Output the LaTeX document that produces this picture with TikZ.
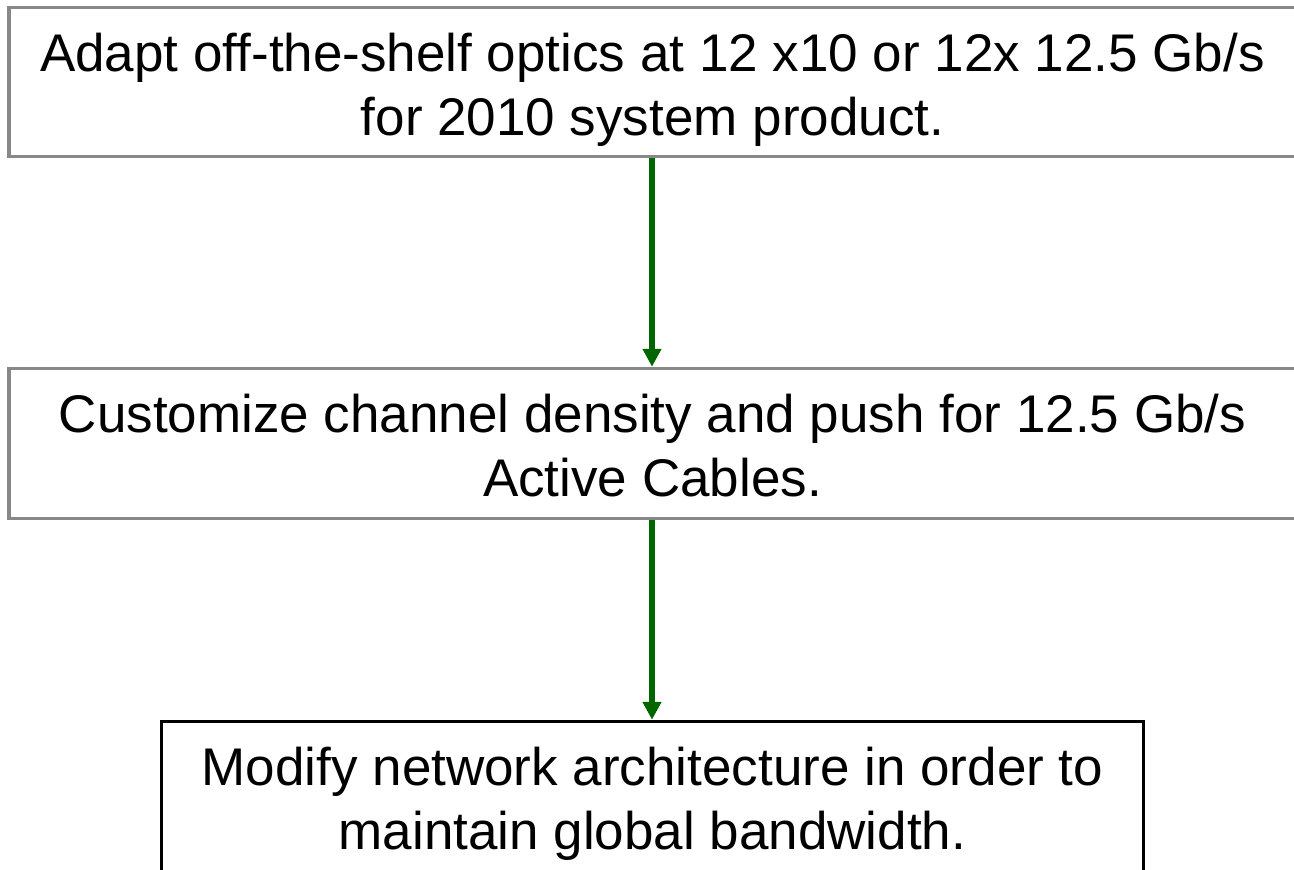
\documentclass[tikz,border=0pt]{standalone}
\usepackage{fontspec}
\setmainfont{Liberation Sans}
\usetikzlibrary{arrows.meta}
\definecolor{boxgray}{RGB}{136,136,136}
\definecolor{flowgreen}{RGB}{0,102,0}
\tikzset{
  stagebox/.style={draw=boxgray, line width=3.5pt, rectangle, inner sep=0pt, fill=white},
  finalbox/.style={draw=black, line width=3.5pt, rectangle, inner sep=0pt, fill=white},
  stagetext/.style={align=center, anchor=base, inner sep=0pt,
    font=\fontsize{53}{64}\selectfont},
  flow/.style={draw=flowgreen, line width=6pt,
    -{Triangle[width=18pt,length=18pt]}}
}
\begin{document}
\begin{tikzpicture}[x=1pt,y=-1pt]
\useasboundingbox (0,0) rectangle (1294,870);
\clip (0,0) rectangle (1294,870);
\fill[white] (0,0) rectangle (1294,870);
% the three stages
\node[stagebox, minimum width=1287pt, minimum height=149pt] (b1) at (652.5,82) {};
\node[stagebox, minimum width=1287pt, minimum height=150pt] (b2) at (652.5,443.5) {};
\node[finalbox, minimum width=982pt, minimum height=160pt] (b3) at (652.5,801.5) {};
% stage labels (anchored at the baseline of their last line)
\node[stagetext] (t1) at (652.5,135) {Adapt off-the-shelf optics at 12 x10 or 12x 12.5 Gb/s\\for 2010 system product.};
\node[stagetext] (t2) at (652.5,496) {Customize channel density and push for 12.5 Gb/s\\Active Cables.};
\node[stagetext] (t3) at (652.5,849) {Modify network architecture in order to\\maintain global bandwidth.};
% flow between stages
\draw[flow] (b1.south -| 652,0) -- (b2.north -| 652,0);
\draw[flow] (b2.south -| 652,0) -- (b3.north -| 652,0);
\end{tikzpicture}
\end{document}
